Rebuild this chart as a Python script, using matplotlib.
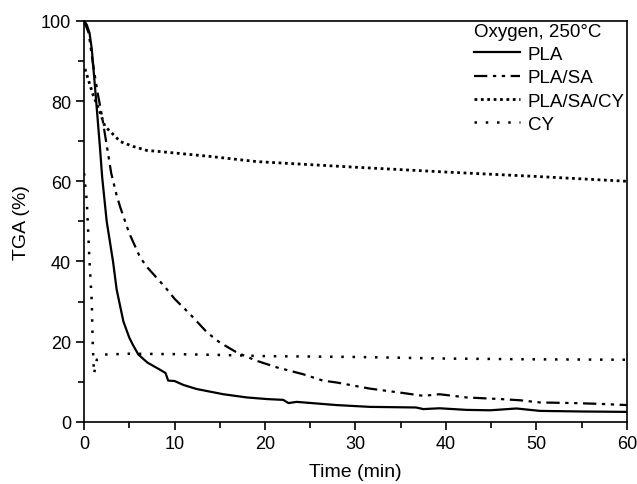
import matplotlib.pyplot as plt
from matplotlib.ticker import MultipleLocator

plt.rcParams['font.family'] = ['Liberation Sans', 'DejaVu Sans']

# PLA (solid)
t_pla = [0, 0.3, 0.6, 0.85, 1.3, 1.77, 2.0, 2.5, 3.2, 3.6, 4.35, 5.0, 5.4, 6.0, 7.0,
         8.4, 9.0, 9.3, 10.0, 11.0, 12.45, 15.4, 18.0, 20.2, 22.0, 22.6, 23.5, 27.9,
         31.6, 36.7, 37.5, 39.3, 42.3, 44.9, 47.8, 50.4, 55.0, 60.0]
v_pla = [100, 99, 97, 93, 81, 68, 61, 50, 40, 33, 25, 21, 19.2, 16.8, 14.8,
         13.0, 12.2, 10.3, 10.2, 9.2, 8.2, 6.9, 6.1, 5.7, 5.5, 4.7, 5.0, 4.2,
         3.75, 3.6, 3.2, 3.4, 3.0, 2.9, 3.35, 2.75, 2.6, 2.5]

# PLA/SA (dash-dot-dot)
t_sa = [0, 0.5, 1.0, 1.5, 2.0, 2.5, 3.0, 3.6, 4.0, 5.0, 6.2, 7.0, 8.0, 9.0, 10.0,
        11.7, 13.6, 15.0, 16.9, 19.0, 21.3, 24.2, 26.4, 28.0, 31.6, 35.3, 37.5,
        39.3, 42.3, 46.0, 48.2, 50.4, 54.1, 57.0, 60.0]
v_sa = [100, 97, 89, 82, 76, 69, 62, 56.5, 53.5, 47, 41, 38.5, 36, 33.5, 30.7,
        26.9, 22.3, 19.8, 17.3, 15.3, 13.6, 11.9, 10.3, 9.8, 8.3, 7.2, 6.5,
        6.9, 6.1, 5.7, 5.4, 4.85, 4.7, 4.5, 4.2]

# PLA/SA/CY (dense dots)
t_sacy = [0.1, 1.0, 1.8, 2.3, 2.9, 4.0, 5.4, 6.9, 8.4, 13.9, 19.1, 30.0, 40.0, 50.0, 60.0]
v_sacy = [88, 81.5, 77, 73.7, 72.4, 69.9, 68.7, 67.7, 67.4, 66.2, 64.9, 63.5, 62.3, 61.2, 60.0]

# CY (sparse dots)
t_cy = [0, 0.3, 0.6, 0.85, 0.96, 1.1, 1.4, 2.3, 5.0, 10.0, 15.0, 20.0, 30.0, 40.0, 50.0, 60.0]
v_cy = [62, 55, 40, 30, 19, 12, 15.5, 16.8, 17.0, 16.9, 16.7, 16.4, 16.2, 15.8, 15.6, 15.5]

fig = plt.figure(figsize=(6.37, 4.85), dpi=100)
ax = fig.add_axes([0.132, 0.128, 0.852, 0.827])

ax.plot(t_pla, v_pla, color='black', lw=1.6, ls='-', label='PLA')
ax.plot(t_sa, v_sa, color='black', lw=1.6, ls=(0, (6, 2.5, 1.5, 2.5, 1.5, 2.5)), label='PLA/SA')
ax.plot(t_sacy, v_sacy, color='black', lw=2.0, ls=(0, (1, 1.3)), label='PLA/SA/CY')
ax.plot(t_cy, v_cy, color='black', lw=1.8, ls=(0, (1, 3.5)), label='CY')

ax.set_xlim(0, 60)
ax.set_ylim(0, 100)
ax.xaxis.set_major_locator(MultipleLocator(10))
ax.xaxis.set_minor_locator(MultipleLocator(5))
ax.yaxis.set_major_locator(MultipleLocator(20))
ax.yaxis.set_minor_locator(MultipleLocator(10))
ax.tick_params(which='major', direction='out', length=6, width=1.2, labelsize=13)
ax.tick_params(which='minor', direction='out', length=4, width=1.2)
for s in ax.spines.values():
    s.set_linewidth(1.2)

ax.set_xlabel('Time (min)', fontsize=14, labelpad=8)
ax.set_ylabel('TGA (%)', fontsize=14, labelpad=8)

leg = ax.legend(title='Oxygen, 250°C', loc='upper right', frameon=False,
                fontsize=13.5, title_fontsize=13.5, handlelength=2.5,
                handletextpad=0.4, labelspacing=0.33, borderaxespad=0.0,
                borderpad=0.1)
leg._legend_box.align = 'left'

fig.savefig('out.png', dpi=100)
